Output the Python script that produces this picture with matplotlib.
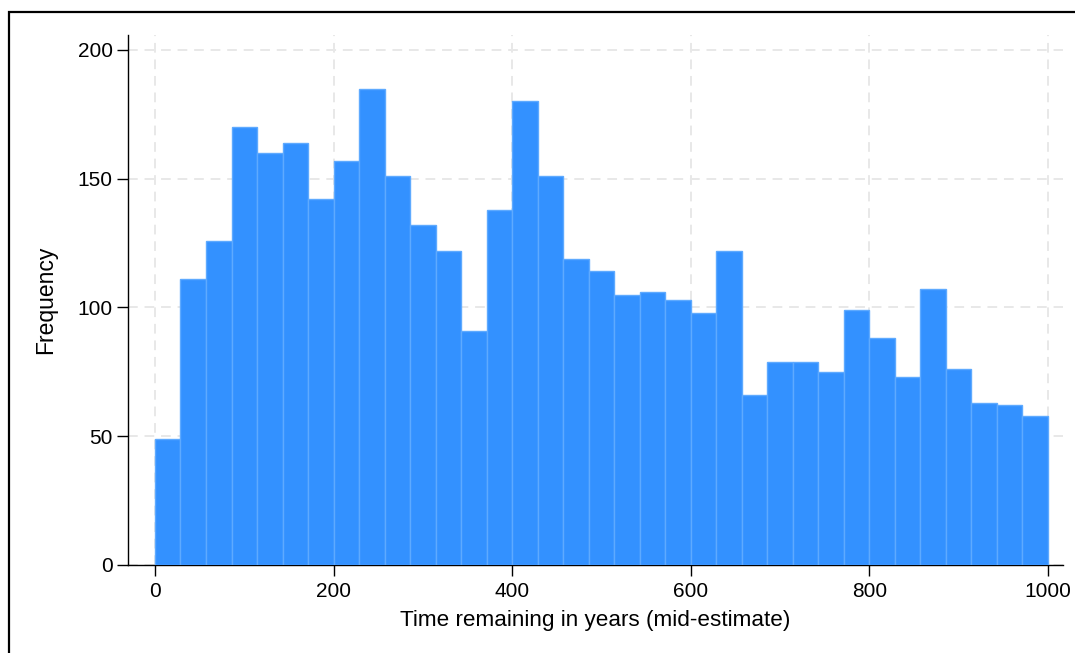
import numpy as np
import matplotlib
matplotlib.use("Agg")
import matplotlib.pyplot as plt
from matplotlib.patches import Rectangle

# Histogram counts (35 bins spanning 0-1000 years)
counts = [49, 111, 126, 170, 160, 164, 142, 157, 185, 151, 132, 122, 91, 138,
          180, 151, 119, 114, 105, 106, 103, 98, 122, 66, 79, 79, 75, 99, 88,
          73, 107, 76, 63, 62, 58]
bin_start = 0
bin_end = 1000
x_ticks = [0, 200, 400, 600, 800, 1000]
y_ticks = [0, 50, 100, 150, 200]

plt.rcParams['font.family'] = ['Liberation Sans', 'DejaVu Sans']

fig = plt.figure(figsize=(10.75, 6.53), dpi=100)
W, H = 1075, 653
ax = fig.add_axes([128 / W, 1 - 565 / H, (1063 - 128) / W, (565 - 35) / H])

n = len(counts)
edges = np.linspace(bin_start, bin_end, n + 1)
ax.bar(edges[:-1], counts, width=np.diff(edges), align='edge',
       color='#3391ff', edgecolor='#5eaaff', linewidth=1.0, zorder=3)

ax.set_xlim(-30.2, 1016.8)
ax.set_ylim(0, 205.8)
ax.set_xticks(x_ticks)
ax.set_yticks(y_ticks)
ax.tick_params(axis='both', labelsize=15, length=8, width=1, color='black',
               pad=4)
ax.tick_params(axis='y', pad=3)

for s in ['top', 'right']:
    ax.spines[s].set_visible(False)
for s in ['left', 'bottom']:
    ax.spines[s].set_linewidth(1.0)

ax.grid(True, color='#e8e8e8', linestyle=(0, (5, 3.5)), linewidth=1.4, zorder=0)
ax.set_axisbelow(True)

ax.set_xlabel('Time remaining in years (mid-estimate)', fontsize=16.2, labelpad=7)
ax.set_ylabel('Frequency', fontsize=16.5, labelpad=15)

# outer frame (extends beyond the image at right and bottom)
fig.patches.append(Rectangle((9 / W, -0.1), 1.2, 1.1 - 12.5 / H,
                             transform=fig.transFigure, fill=False,
                             edgecolor='black', linewidth=1.6))

fig.savefig('out.png', dpi=100)
